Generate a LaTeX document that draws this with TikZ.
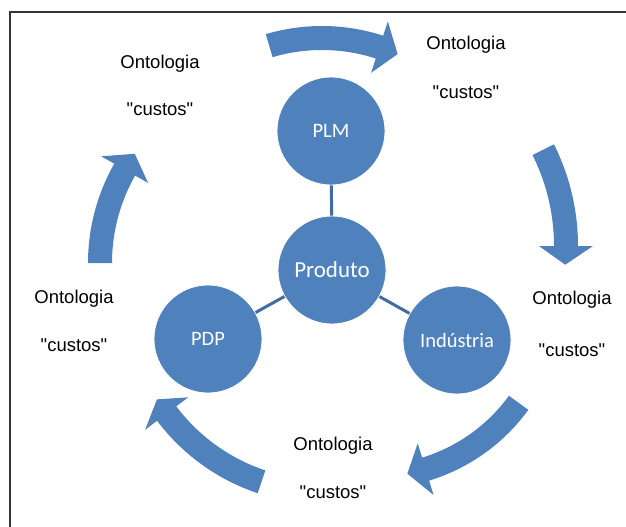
\documentclass[tikz,border=0pt]{standalone}
\usepackage{fontspec}
\setmainfont{Liberation Sans}[Ligatures=TeXOff]
\newfontfamily\circfont{Carlito}
\definecolor{cycleblue}{RGB}{79,129,189}
\definecolor{linkblue}{RGB}{63,109,160}

% half widths of the shaft and of the head of the curved arrows
\newcommand{\shafthw}{12}
\newcommand{\headhw}{27}
% curved block arrow: centre x, centre y, radius, tail angle, head base angle, tip angle
\newcommand{\cyclearrow}[6]{%
  \fill[cycleblue]
    plot[domain=#4:#5, samples=40] ({#1+(#3+\shafthw)*cos(\x)},{#2+(#3+\shafthw)*sin(\x)})
    -- ({#1+(#3+\headhw)*cos(#5)},{#2+(#3+\headhw)*sin(#5)})
    -- ({#1+#3*cos(#6)},{#2+#3*sin(#6)})
    -- ({#1+(#3-\headhw)*cos(#5)},{#2+(#3-\headhw)*sin(#5)})
    -- plot[domain=#5:#4, samples=40] ({#1+(#3-\shafthw)*cos(\x)},{#2+(#3-\shafthw)*sin(\x)})
    -- cycle;}

\tikzset{
  hub/.style={circle, fill=cycleblue, draw=white, line width=0.8pt,
    minimum size=108pt, inner sep=0pt, text=white,
    font=\circfont\fontsize{20.5}{24}\selectfont},
  bighub/.style={hub, font=\circfont\fontsize{23}{27}\selectfont},
  link/.style={draw=linkblue, line width=3pt},
  lbl/.style={anchor=base, inner sep=0pt, font=\fontsize{18.5}{22}\selectfont},
}

\begin{document}
\begin{tikzpicture}[x=1pt, y=-1pt]
  \useasboundingbox (0,0) rectangle (626,527);

  % frame lines
  \draw[line width=1.5pt, black!80] (10,527) -- (10,12) -- (626,12);

  % cycle of curved arrows
  \cyclearrow{322}{224}{186}{-106.5}{-72}{-66}
  \cyclearrow{351}{246}{215}{-26.6}{0}{5}
  \cyclearrow{373}{297}{180}{36}{73}{79}
  \cyclearrow{324}{295}{197}{108.5}{143}{148}
  \cyclearrow{289}{263}{189}{180}{209.6}{215.3}

  % central nodes
  \node[hub]    (plm)  at (331,131) {PLM};
  \node[bighub] (prod) at (332,270) {Produto};
  \node[hub]    (pdp)  at (208,339) {PDP};
  \node[hub]    (ind)  at (457,340) {Indústria};

  \draw[link] (plm) -- (prod);
  \draw[link] (prod) -- (pdp);
  \draw[link] (prod) -- (ind);

  % labels
  \node[lbl] (ontA) at (160,68)  {Ontologia};
  \node[lbl] (cusA) at (160,115) {"custos"};
  \node[lbl] (ontB) at (466,49)  {Ontologia};
  \node[lbl] (cusB) at (466,98)  {"custos"};
  \node[lbl] (ontC) at (572,304) {Ontologia};
  \node[lbl] (cusC) at (572,356) {"custos"};
  \node[lbl] (ontD) at (333,450) {Ontologia};
  \node[lbl] (cusD) at (333,498) {"custos"};
  \node[lbl] (ontE) at (74,303)  {Ontologia};
  \node[lbl] (cusE) at (74,351)  {"custos"};
\end{tikzpicture}
\end{document}
